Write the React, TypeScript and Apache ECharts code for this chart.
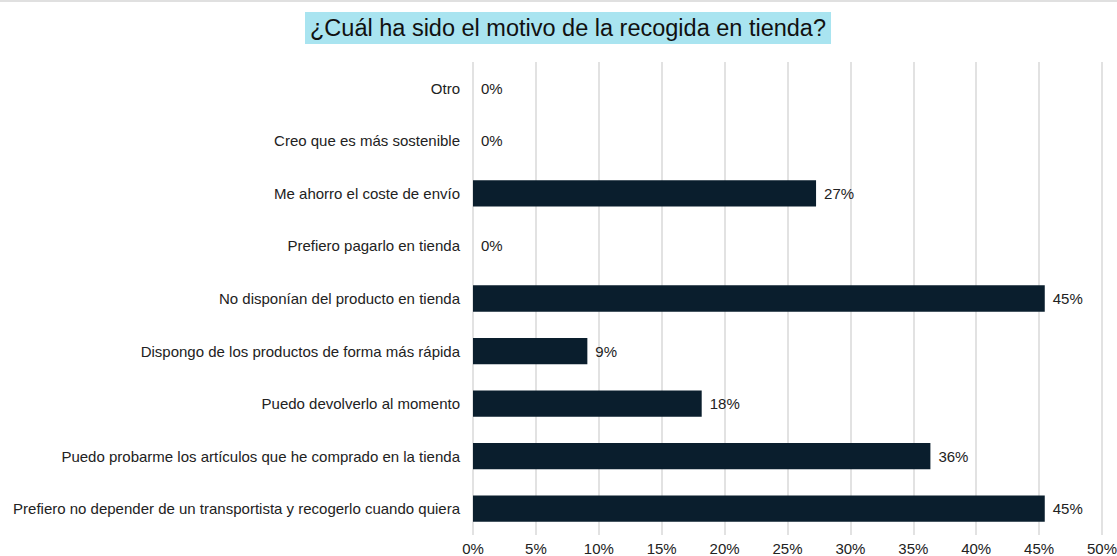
import React, { useEffect, useRef } from "react";
import * as echarts from "echarts";

const categories = [
  "Otro",
  "Creo que es más sostenible",
  "Me ahorro el coste de envío",
  "Prefiero pagarlo en tienda",
  "No disponían del producto en tienda",
  "Dispongo de los productos de forma más rápida",
  "Puedo devolverlo al momento",
  "Puedo probarme los artículos que he comprado en la tienda",
  "Prefiero no depender de un transportista y recogerlo cuando quiera",
];
const values = [0, 0, 27.27, 0, 45.45, 9.09, 18.18, 36.36, 45.45];
const titleText = "¿Cuál ha sido el motivo de la recogida en tienda?";

const FONT = "Liberation Sans, Arial, sans-serif";

export default function App() {
  const ref = useRef<HTMLDivElement>(null);
  useEffect(() => {
    document.body.style.margin = "0";
    const chart = echarts.init(ref.current!, null, { renderer: "svg" });
    chart.setOption({
      animation: false,
      backgroundColor: "#ffffff",
      title: {
        text: titleText,
        left: 305,
        top: 12,
        padding: [3, 5],
        backgroundColor: "#a9e4f0",
        textStyle: {
          fontFamily: FONT,
          fontSize: 23.5,
          fontWeight: "normal",
          color: "#111",
          lineHeight: 26,
        },
      },
      graphic: [
        {
          type: "line",
          shape: { x1: 0, y1: 1, x2: 1117, y2: 1 },
          style: { stroke: "#d6d6d6", lineWidth: 1.5 },
        },
      ],
      grid: {
        left: 473,
        right: 15,
        top: 62,
        bottom: 21,
        containLabel: false,
        outerBoundsMode: "none",
      },
      xAxis: {
        type: "value",
        min: 0,
        max: 50,
        interval: 5,
        axisLine: { show: false },
        axisTick: { show: false },
        splitLine: { show: true, lineStyle: { color: "#d9d9d9", width: 1.5 } },
        axisLabel: {
          formatter: "{value}%",
          fontFamily: FONT,
          fontSize: 15,
          color: "#222",
          margin: 6,
        },
      },
      yAxis: {
        type: "category",
        data: categories,
        inverse: true,
        axisLine: { show: false },
        axisTick: { show: false },
        axisLabel: {
          fontFamily: FONT,
          fontSize: 15,
          color: "#222",
          margin: 13,
        },
      },
      series: [
        {
          type: "bar",
          data: values,
          barWidth: "50%",
          itemStyle: { color: "#0a1e2d" },
          label: {
            show: true,
            position: "right",
            distance: 8,
            formatter: (p: any) => Math.round(p.value) + "%",
            fontFamily: FONT,
            fontSize: 15,
            color: "#222",
          },
        },
      ],
    });
    return () => chart.dispose();
  }, []);
  return <div ref={ref} style={{ width: 1117, height: 556 }} />;
}
